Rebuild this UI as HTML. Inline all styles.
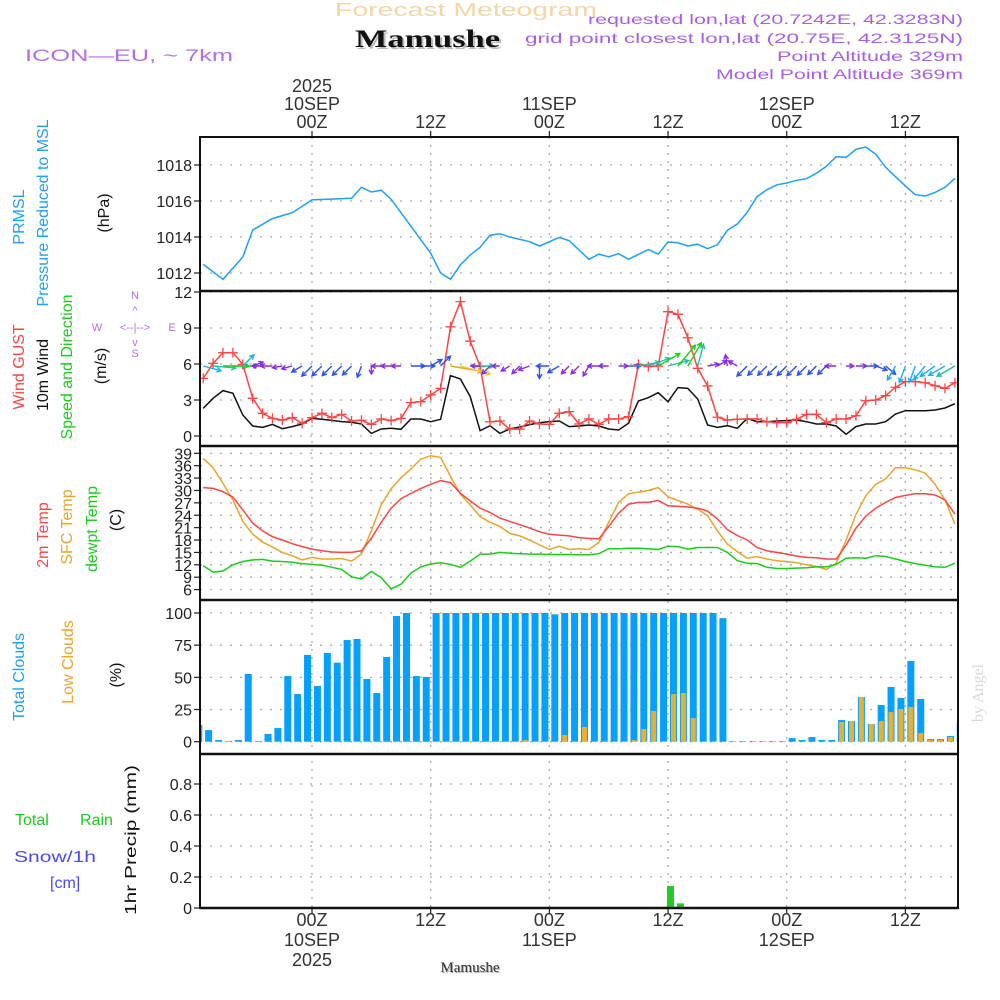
<!DOCTYPE html>
<html><head><meta charset="utf-8">
<style>
html,body{margin:0;padding:0;background:#fff;}
svg{display:block;font-family:"Liberation Sans",sans-serif;}
</style></head>
<body>
<svg id="chart" width="1000" height="1000" viewBox="0 0 1000 1000" xmlns="http://www.w3.org/2000/svg">
<rect x="0" y="0" width="1000" height="1000" fill="#fff"/>
<text x="335" y="16" font-size="18" fill="#f3d6a2" textLength="262" lengthAdjust="spacingAndGlyphs">Forecast Meteogram</text>
<text x="357" y="49" font-family="Liberation Serif,serif" font-weight="bold" font-size="25" fill="#bbb" textLength="145" lengthAdjust="spacingAndGlyphs">Mamushe</text>
<text x="355" y="47" font-family="Liberation Serif,serif" font-weight="bold" font-size="25" fill="#111" textLength="145" lengthAdjust="spacingAndGlyphs">Mamushe</text>
<text x="25" y="61" font-size="17" fill="#b36ee6" textLength="208" lengthAdjust="spacingAndGlyphs">ICON—EU,  ~  7km</text>
<g font-size="14" fill="#a85ee6" text-anchor="end">
<text x="963" y="24" textLength="375" lengthAdjust="spacingAndGlyphs">requested lon,lat (20.7242E, 42.3283N)</text>
<text x="963" y="43" textLength="438" lengthAdjust="spacingAndGlyphs">grid point closest lon,lat (20.75E, 42.3125N)</text>
<text x="963" y="61" textLength="186" lengthAdjust="spacingAndGlyphs">Point Altitude 329m</text>
<text x="963" y="79" textLength="247" lengthAdjust="spacingAndGlyphs">Model Point Altitude 369m</text>
</g>
<g id="grid"></g>
<g id="series"></g>
<g id="frame"></g>
<g id="labels"></g>
</svg>
<script>
// ---- data (hour offsets relative to 10SEP 00Z) ----
const hours = [];
for (let h = -11; h <= 65; h++) hours.push(h);
const presHours = [-11,-9,-7,-6,-4,-2,0,4,5,6,7,8,12,13,14,15,16,17,18,19,20,22,23,25,26,28,29,30,31,32,34,35,36,37,38,39,40,41,42,43,44,45,46,47,48,49,50,51,52,53,54,55,56,57,58,60,61,62,63,64,65];
const presVals = [1012.48,1011.65,1012.89,1014.39,1015.02,1015.35,1016.06,1016.15,1016.76,1016.5,1016.6,1016.1,1013.1,1012.0,1011.65,1012.45,1013.0,1013.43,1014.1,1014.18,1014.0,1013.74,1013.5,1013.98,1013.8,1012.76,1013.05,1012.9,1013.07,1012.76,1013.3,1013.05,1013.72,1013.68,1013.5,1013.6,1013.35,1013.57,1014.37,1014.72,1015.37,1016.24,1016.63,1016.9,1017.0,1017.15,1017.24,1017.54,1017.93,1018.46,1018.43,1018.87,1019.0,1018.6,1017.87,1016.83,1016.35,1016.28,1016.48,1016.76,1017.26];
const gustVals = [4.8,6.06,6.94,6.94,5.97,3.14,1.89,1.47,1.33,1.53,1.06,1.53,1.89,1.53,1.8,1.25,1.31,0.97,1.42,1.28,1.47,2.78,2.86,3.42,3.97,9.1,11.2,7.9,5.78,1.19,1.25,0.58,0.58,1.25,1.0,0.97,1.89,2.03,1.0,1.42,0.97,1.42,1.42,1.61,5.97,5.78,5.83,10.36,10.14,8.19,5.64,4.17,1.56,1.33,1.39,1.42,1.42,1.19,1.11,1.11,1.39,1.8,1.8,1.11,1.42,1.42,1.69,2.94,3.0,3.36,4.06,4.53,4.53,4.44,4.19,3.97,4.44];
const windVals = [2.3,3.14,3.78,3.56,1.75,0.83,0.72,0.97,0.61,0.78,1.0,1.47,1.4,1.3,1.2,1.15,1.0,0.22,0.58,0.64,0.56,1.42,1.42,1.19,1.39,5.03,4.75,3.28,0.44,0.86,0.22,0.58,0.75,0.95,1.1,1.2,1.25,0.78,0.83,0.92,0.83,0.58,0.5,1.06,2.92,3.19,3.61,2.86,4.03,3.97,3.08,0.92,0.72,0.86,0.64,1.47,1.19,1.19,1.25,1.28,1.33,1.19,1.0,1.0,0.83,0.14,0.78,1.0,1.0,1.19,1.83,2.11,2.11,2.11,2.17,2.33,2.69];
const windDir = [15,5,0,0,-45,-20,180,180,170,165,150,135,135,135,135,135,110,90,180,180,180,0,0,-30,-45,10,15,0,180,135,180,150,135,160,90,180,150,135,135,120,180,180,0,0,-10,-20,-30,-15,-50,-60,-75,-10,-30,-100,-150,135,135,135,135,135,135,135,135,135,180,0,0,0,20,40,120,110,110,130,145,150,150];
const temp2m = [30.7,30.5,29.7,28.4,25.3,22.1,20.2,18.8,18.0,17.1,16.4,15.8,15.4,15.1,15.0,15.0,15.4,18.4,22.3,25.7,28.0,29.3,30.5,31.5,32.4,31.9,29.3,27.5,25.7,24.7,23.3,22.5,21.7,20.9,20.0,19.4,19.2,19.0,18.6,18.4,18.3,21.3,24.5,26.7,27.1,27.1,27.6,26.3,26.2,26.0,25.7,25.0,23.1,20.5,19.1,18.0,16.2,15.4,15.0,14.6,14.1,13.8,13.7,13.4,13.4,16.8,20.9,23.8,25.7,27.1,28.3,28.8,29.2,29.2,28.9,27.7,24.3];
const tempSfc = [37.8,35.5,31.7,27.7,22.5,19.4,17.5,16.3,15.0,14.2,13.2,13.8,13.4,13.4,13.5,12.9,14.6,20.2,26.5,30.4,33.1,35.2,37.6,38.4,38.0,33.4,29.1,26.5,23.7,22.3,21.3,19.6,19.0,18.0,16.8,15.7,16.5,15.7,15.9,15.7,17.4,22.3,27.1,29.2,29.6,30.0,30.7,28.5,27.6,26.7,25.5,23.9,20.2,17.0,15.2,13.6,14.0,13.4,13.0,12.8,12.5,12.0,11.6,10.9,12.4,18.0,24.2,28.7,31.5,32.8,35.5,35.5,35.0,34.2,31.5,27.7,21.9];
const tempDew = [11.8,10.2,10.5,12.0,12.8,13.2,13.3,12.9,12.8,12.6,12.3,12.1,11.9,11.4,10.9,9.1,8.6,10.4,8.9,6.2,7.3,10.0,11.5,12.2,12.5,12.1,11.4,12.9,14.6,14.6,15.0,14.8,14.7,14.6,14.6,14.5,14.5,14.5,14.4,14.4,14.7,15.9,15.9,16.0,16.0,15.9,15.7,16.5,16.4,15.8,16.2,16.2,16.2,15.0,13.0,12.4,12.3,11.4,11.1,11.1,11.2,11.3,11.5,11.5,12.1,13.6,13.7,13.6,14.2,14.0,13.4,12.8,12.3,11.9,11.5,11.4,12.4];
const cloudHours = [];
for (let h = -12; h <= 65; h++) cloudHours.push(h);
const totalClouds = [13,9,1.3,0.5,1.3,52.6,0.5,6,10.6,51,37,67.4,43.3,69,61.4,79,79.8,48.7,37.8,65.8,97.7,100,51,50.3,100,100,100,100,100,100,100,100,100,100,100,100,99,100,100,100,100,100,100,100,100,100,100,100,100,100,100,100,100,96,0.3,0.3,0.3,0.3,0.3,0.3,2.8,1.3,3.6,1.3,1.3,16.8,16,34.7,13.7,28.5,42.5,34,62.7,33.2,2,2,4.4,14.5];
const lowClouds = [12,0,0,0.5,0,0,0,0,0,0,0,0,0,0,0,0,0,0,0,0,0,0,0,0,0,0,0,0,0,0,0,0,0,1.3,0,0,0,5.2,0,11.4,0,0,0,0,1.3,9.8,23.8,0.5,37,37.8,18.4,0,0,0,0,0,0,0,0,0,0,0,0,0,0,15.3,16,34.7,13.7,16,23,25.4,27,6.7,1.3,1.3,3.6,0.5];
const precipHours = [36,37];
const precipVals = [0.142,0.03];
const presTicks = [1012,1014,1016,1018];
const windTicks = [0,3,6,9,12];
const tempTicks = [6,9,12,15,18,21,24,27,30,33,36,39];
const cloudTicks = [0,25,50,75,100];
const precipTicks = [0,0.2,0.4,0.6,0.8];
const timeMarks = [0,12,24,36,48,60];
const timeLabels = ["00Z","12Z","00Z","12Z","00Z","12Z"];
const dayLabels = ["10SEP","","11SEP","","12SEP",""];

// ---- axes ----
const X0 = 200, X1 = 958;
const xH = h => 312 + h * 9.89;
const yP = p => 273 - (p - 1012) * 18;
const yW = v => 436 - v * 12;
const yT = t => 453.3 + (39 - t) * 4.13;
const yC = c => 741.7 - c * 1.287;
const yR = r => 908 - r * 155;
const panels = [[137,291],[291,446],[446,600],[600,754],[754,908]];
const NS = "http://www.w3.org/2000/svg";
function mk(tag, attrs, parent) {
  const e = document.createElementNS(NS, tag);
  for (const k in attrs) e.setAttribute(k, attrs[k]);
  parent.appendChild(e);
  return e;
}
const svg = document.getElementById('chart');
const defs = mk('defs', {}, svg);
panels.forEach((p, i) => {
  const cp = mk('clipPath', {id: 'clip' + i}, defs);
  mk('rect', {x: X0, y: p[0], width: X1 - X0, height: p[1] - p[0]}, cp);
});
const grid = document.getElementById('grid');
const series = document.getElementById('series');
const frame = document.getElementById('frame');
const labels = document.getElementById('labels');

function hAxis(ticks, yf, fmt, name) {
  ticks.forEach(t => {
    const y = yf(t);
    const gl = mk('line', {x1: X0, x2: X1, y1: y, y2: y, stroke: '#aaa', 'stroke-width': 1.3, 'stroke-dasharray': '2,8'}, grid);
    
    
    const tk = mk('line', {x1: X0 - 6, x2: X0, y1: y, y2: y, stroke: '#222', 'stroke-width': 1.2}, frame);
    
    
    const tx = mk('text', {x: X0 - 8, y: y + 6, 'font-size': 16, fill: '#222', 'text-anchor': 'end'}, labels);
    tx.textContent = fmt(t);
    
    
  });
}
hAxis(presTicks, yP, t => String(t), 'pressure-axis');
hAxis(windTicks, yW, t => String(t), 'wind-axis');
hAxis(tempTicks, yT, t => String(t), 'temp-axis');
hAxis(cloudTicks, yC, t => String(t), 'cloud-axis');
hAxis(precipTicks, yR, t => t === 0 ? '0' : t.toFixed(1), 'precip-axis');

timeMarks.forEach((h, i) => {
  const x = xH(h);
  const vl = mk('line', {x1: x, x2: x, y1: 137, y2: 908, stroke: '#aaa', 'stroke-width': 1.3, 'stroke-dasharray': '2,6'}, grid);
  
  
  mk('line', {x1: x, x2: x, y1: 131, y2: 137, stroke: '#222', 'stroke-width': 1.2}, frame);
  mk('line', {x1: x, x2: x, y1: 908, y2: 914, stroke: '#222', 'stroke-width': 1.2}, frame);
  const t1 = mk('text', {x: x, y: 128, 'font-size': 18, fill: '#333', 'text-anchor': 'middle'}, labels);
  t1.textContent = timeLabels[i];
  
  
  const b1 = mk('text', {x: x, y: 926, 'font-size': 18, fill: '#333', 'text-anchor': 'middle'}, labels);
  b1.textContent = timeLabels[i];
  
  
  if (dayLabels[i]) {
    const t2 = mk('text', {x: x, y: 110, 'font-size': 18, fill: '#333', 'text-anchor': 'middle'}, labels);
    t2.textContent = dayLabels[i];
    
    
    const b2 = mk('text', {x: x, y: 946, 'font-size': 18, fill: '#333', 'text-anchor': 'middle'}, labels);
    b2.textContent = dayLabels[i];
    
    
  }
  if (i === 0) {
    const t3 = mk('text', {x: x, y: 92, 'font-size': 18, fill: '#333', 'text-anchor': 'middle'}, labels);
    t3.textContent = '2025';
    
    
    const b3 = mk('text', {x: x, y: 966, 'font-size': 18, fill: '#333', 'text-anchor': 'middle'}, labels);
    b3.textContent = '2025';
    
    
  }
});

function line(hs, vs, yf, color, clip, name, w) {
  const pts = hs.map((h, i) => xH(h).toFixed(1) + ',' + yf(vs[i]).toFixed(1)).join(' ');
  const pl = mk('polyline', {points: pts, fill: 'none', stroke: color, 'stroke-width': w || 1.5, 'clip-path': 'url(#clip' + clip + ')'}, series);
  
  
  return pl;
}
line(presHours, presVals, yP, '#1ea0f5', 0, 'pressure-line');
line(hours, windVals, yW, '#111', 1, 'wind-speed-line');
line(hours, gustVals, yW, '#f44', 1, 'wind-gust-line');
hours.forEach((h, i) => {
  const x = xH(h), y = yW(gustVals[i]);
  const g = mk('path', {d: `M${x-5},${y}H${x+5}M${x},${y-5}V${y+5}`, stroke: '#f44', 'stroke-width': 1.3, 'clip-path': 'url(#clip1)'}, series);
  
  
});
function windColor(s) {
  if (s < 1) return '#8a2be2';
  if (s < 1.5) return '#3050f0';
  if (s < 2.5) return '#1ab0f0';
  if (s < 3.5) return '#20c0a0';
  if (s < 4.5) return '#22cc22';
  if (s < 5) return '#e8d020';
  return '#f0a020';
}
hours.forEach((h, i) => {
  const s = windVals[i], a = windDir[i] * Math.PI / 180;
  const L = 7 + s * 5;
  const x0 = xH(h), y0 = yW(6) + 2;
  const x1 = x0 + L * Math.cos(a), y1 = y0 + L * Math.sin(a);
  const hl = 5, ha = 0.5;
  const p1x = x1 - hl * Math.cos(a - ha), p1y = y1 - hl * Math.sin(a - ha);
  const p2x = x1 - hl * Math.cos(a + ha), p2y = y1 - hl * Math.sin(a + ha);
  const ar = mk('path', {d: `M${x0},${y0}L${x1},${y1}M${p1x},${p1y}L${x1},${y1}L${p2x},${p2y}`, stroke: windColor(s), 'stroke-width': 1.4, fill: 'none', 'clip-path': 'url(#clip1)'}, series);
  
  
});
line(hours, tempSfc, yT, '#e8a52c', 2, 'sfc-temp-line');
line(hours, temp2m, yT, '#f44', 2, 'temp-2m-line');
line(hours, tempDew, yT, '#1ccc1c', 2, 'dewpoint-line');
cloudHours.forEach((h, i) => {
  const x = xH(h + 0.55);
  const b = mk('rect', {x: x - 3.5, y: yC(totalClouds[i]), width: 7, height: Math.max(0.5, yC(0) - yC(totalClouds[i])), fill: '#05a0fa', 'clip-path': 'url(#clip3)'}, series);
  
  
  if (lowClouds[i] > 0) {
    const l = mk('rect', {x: x - 2.5, y: yC(lowClouds[i]), width: 5, height: yC(0) - yC(lowClouds[i]), fill: '#e8b030', 'clip-path': 'url(#clip3)'}, series);
    
    
  }
});
precipHours.forEach((h, i) => {
  const x = xH(h + 0.25);
  const b = mk('rect', {x: x - 3.5, y: yR(precipVals[i]), width: 7, height: yR(0) - yR(precipVals[i]), fill: '#22cc22', 'clip-path': 'url(#clip4)'}, series);
  
  
});
const fr = mk('rect', {x: X0, y: 137, width: X1 - X0, height: 771, fill: 'none', stroke: '#111', 'stroke-width': 2}, frame);


[291, 446, 600, 754].forEach(y => {
  const s = mk('line', {x1: X0, x2: X1, y1: y, y2: y, stroke: '#111', 'stroke-width': 2.5}, frame);
  
  
});
const bl = mk('line', {x1: X0, x2: X1, y1: 908, y2: 908, stroke: '#111', 'stroke-width': 2.5}, frame);


</script>
<svg style="position:absolute;left:0;top:0" width="1000" height="1000">
<g font-family="Liberation Sans, sans-serif" font-size="16" text-anchor="middle">
<text transform="translate(24,217) rotate(-90)" fill="#1ea0f5">PRMSL</text>
<text transform="translate(48,213) rotate(-90)" fill="#1ea0f5" textLength="187" lengthAdjust="spacingAndGlyphs">Pressure Reduced to MSL</text>
<text transform="translate(109,213) rotate(-90)" fill="#111">(hPa)</text>
<text transform="translate(24,367) rotate(-90)" fill="#f44">Wind GUST</text>
<text transform="translate(48,375) rotate(-90)" fill="#111">10m Wind</text>
<text transform="translate(72,367) rotate(-90)" fill="#1ccc1c" textLength="145" lengthAdjust="spacingAndGlyphs">Speed and Direction</text>
<text transform="translate(106,366) rotate(-90)" fill="#111">(m/s)</text>
<text transform="translate(48,535) rotate(-90)" fill="#f44">2m Temp</text>
<text transform="translate(72,527) rotate(-90)" fill="#e8a52c">SFC Temp</text>
<text transform="translate(97,529) rotate(-90)" fill="#1ccc1c">dewpt Temp</text>
<text transform="translate(121,520) rotate(-90)" fill="#111">(C)</text>
<text transform="translate(24,677) rotate(-90)" fill="#1ea0f5">Total Clouds</text>
<text transform="translate(73,662) rotate(-90)" fill="#e8a52c">Low Clouds</text>
<text transform="translate(121,675) rotate(-90)" fill="#111">(%)</text>
<text transform="translate(136,840) rotate(-90)" fill="#111" textLength="150" lengthAdjust="spacingAndGlyphs">1hr Precip (mm)</text>
</g>
<g font-family="Liberation Sans, sans-serif" font-size="16">
<text x="15" y="825" fill="#1ccc1c">Total</text>
<text x="80" y="825" fill="#1ccc1c">Rain</text>
<text x="14" y="862" fill="#4a4af0" textLength="82" lengthAdjust="spacingAndGlyphs">Snow/1h</text>
<text x="50" y="888" fill="#4a4af0">[cm]</text>
</g>
<g font-family="Liberation Sans, sans-serif" font-size="11" fill="#b36ee6" text-anchor="middle">
<text x="135" y="299">N</text>
<text x="135" y="314">^</text>
<text x="97" y="331">W</text>
<text x="135" y="331">&lt;--|--&gt;</text>
<text x="172" y="331">E</text>
<text x="135" y="346">v</text>
<text x="135" y="357">S</text>
</g>
<text x="471" y="973" font-family="Liberation Serif, serif" font-size="15" fill="#aaa" text-anchor="middle">Mamushe</text>
<text x="470" y="972" font-family="Liberation Serif, serif" font-size="15" fill="#333" text-anchor="middle">Mamushe</text>
<text transform="translate(983,693) rotate(-90)" font-family="Liberation Serif, serif" font-size="16" fill="#d8d8d8" text-anchor="middle">by Angel</text>
</svg>
</body></html>
